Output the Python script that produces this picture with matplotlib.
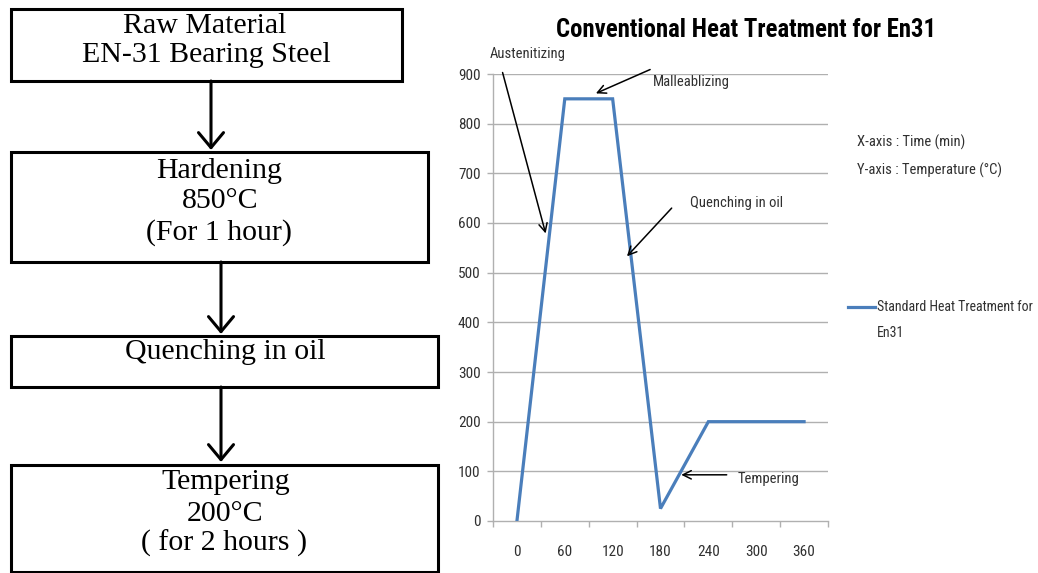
import matplotlib
matplotlib.use("Agg")
import matplotlib.pyplot as plt
from matplotlib.lines import Line2D
from matplotlib.patches import Rectangle, FancyArrowPatch
from matplotlib import font_manager

# ---------------- data ----------------
time_min = [0, 60, 120, 180, 240, 300, 360]
temperature_c = [0, 850, 850, 25, 200, 200, 200]
x_tick_labels = ["0", "60", "120", "180", "240", "300", "360"]
y_ticks = [0, 100, 200, 300, 400, 500, 600, 700, 800, 900]
series_name = "Standard Heat Treatment for\nEn31"
chart_title = "Conventional Heat Treatment for En31"
axis_notes = ["X-axis : Time (min)", "Y-axis : Temperature (\u00b0C)"]

flow_steps = [
    ["Raw Material", "EN-31 Bearing Steel"],
    ["Hardening", "850\u00b0C", "(For 1 hour)"],
    ["Quenching in oil"],
    ["Tempering", "200\u00b0C", "( for 2 hours )"],
]

# annotations: (label, arrow tip (x, y), arrow tail (x, y), text pos (x, y), ha)
annotations = [
    ("Austenitizing", (36, 579), (-18, 903), (14, 940), "center"),
    ("Malleablizing", (99, 861), (167, 909), (170, 883), "left"),
    ("Quenching in oil", (138, 533), (194, 630), (217, 640), "left"),
    ("Tempering", (206, 93), (263, 93), (277, 85), "left"),
]

# ---------------- fonts ----------------
avail = {f.name for f in font_manager.fontManager.ttflist}
narrow = "Liberation Sans"
scale = 0.88
for cand, sc in [("Liberation Sans Narrow", 1.0), ("Roboto Condensed", 1.0),
                 ("Open Sans Condensed", 1.0)]:
    if cand in avail:
        narrow, scale = cand, sc
        break
serif = "Liberation Serif"

W, H = 1038, 573
fig = plt.figure(figsize=(W / 100, H / 100), dpi=100)
fig.patch.set_facecolor("white")

# ---------------- flowchart (pixel overlay) ----------------
ov = fig.add_axes([0, 0, 1, 1])
ov.set_xlim(0, W)
ov.set_ylim(H, 0)
ov.axis("off")

boxes = [  # x0, y0, x1, y1 (pixels)
    (11, 9, 402, 81),
    (11, 152, 428, 262),
    (11, 336, 438, 387),
    (11, 465, 438, 572),
]
line_pos = [  # (x center, baseline y) for each text line
    [(205, 33), (206, 62)],
    [(219, 178), (220, 208), (219, 240)],
    [(225, 359)],
    [(226, 489), (225, 521), (224, 551)],
]
for (x0, y0, x1, y1), lines, pos in zip(boxes, flow_steps, line_pos):
    ov.add_patch(Rectangle((x0, y0), x1 - x0, y1 - y0, fill=False,
                           edgecolor="black", linewidth=2.2))
    for txt, (tx, ty) in zip(lines, pos):
        ov.text(tx, ty, txt, ha="center", va="baseline", fontsize=21.5,
                family=serif, color="black")

arrows = [(211, 81, 150), (221, 262, 334), (221, 387, 462)]
for ax_x, ya, yb in arrows:
    ov.add_patch(FancyArrowPatch((ax_x, ya), (ax_x, yb), arrowstyle="->,head_length=6,head_width=5",
                                 color="black", linewidth=2.2, shrinkA=0, shrinkB=0,
                                 mutation_scale=1.8))

# ---------------- line chart ----------------
left, right = 493 / W, 828 / W
bottom, top = 1 - 521 / H, 1 - 74 / H
ax = fig.add_axes([left, bottom, right - left, top - bottom])
ax.set_facecolor("none")
ax.plot(time_min, temperature_c, color="#4a7ebb", linewidth=2.3, solid_joinstyle="miter",
        zorder=3)
ax.set_xlim(-30, 390)
ax.set_ylim(0, 900)
grid_c = "#b0b0b0"
for y in y_ticks[1:]:
    ax.axhline(y, color=grid_c, linewidth=1.0, zorder=1)
for s in ["top", "right"]:
    ax.spines[s].set_visible(False)
ax.spines["left"].set_color(grid_c)
ax.spines["bottom"].set_color(grid_c)
ax.spines["left"].set_linewidth(1.0)
ax.spines["bottom"].set_linewidth(1.0)

fs = 10.5 * scale
tfs = 11 * scale
ax.set_yticks(y_ticks)
ax.set_yticklabels([str(v) for v in y_ticks])
ax.tick_params(axis="y", direction="out", length=4, width=1, color=grid_c, pad=5,
               labelsize=tfs, labelcolor="#303030")
ax.set_xticks(time_min)
ax.set_xticklabels(x_tick_labels)
ax.set_xticks([t - 30 for t in time_min] + [390], minor=True)
ax.tick_params(axis="x", which="major", length=0, pad=17, labelsize=tfs, labelcolor="#303030")
ax.tick_params(axis="x", which="minor", direction="out", length=4, width=1, color=grid_c)
for lab in ax.get_xticklabels() + ax.get_yticklabels():
    lab.set_family(narrow)

for label, tip, tail, tpos, ha in annotations:
    ax.annotate("", xy=tip, xytext=tail, xycoords="data", textcoords="data",
                arrowprops=dict(arrowstyle="->,head_length=0.6,head_width=0.3",
                                color="black", lw=1.1, shrinkA=0, shrinkB=0),
                annotation_clip=False)
    ax.text(tpos[0], tpos[1], label, ha=ha, va="center", fontsize=fs,
            family=narrow, color="#303030", clip_on=False)

# title
fig.text(746 / W, 1 - 30 / H, chart_title, ha="center", va="center", fontsize=17.8 * scale,
         fontweight="bold", family=narrow, color="black")

# axis notes
fig.text(857 / W, 1 - 142 / H, axis_notes[0], ha="left", va="center", fontsize=fs,
         family=narrow, color="#303030")
fig.text(857 / W, 1 - 170 / H, axis_notes[1], ha="left", va="center", fontsize=fs,
         family=narrow, color="#303030")

# legend (manual)
ov.add_line(Line2D([848, 875], [307, 307], color="#4a7ebb", linewidth=2.3))
leg_lines = series_name.split("\n")
ov.text(877, 307, leg_lines[0], ha="left", va="center", fontsize=fs * 0.95, family=narrow,
        color="#303030")
ov.text(877, 333, leg_lines[1], ha="left", va="center", fontsize=fs * 0.95, family=narrow,
        color="#303030")

fig.savefig("out.png", dpi=100, facecolor="white")
